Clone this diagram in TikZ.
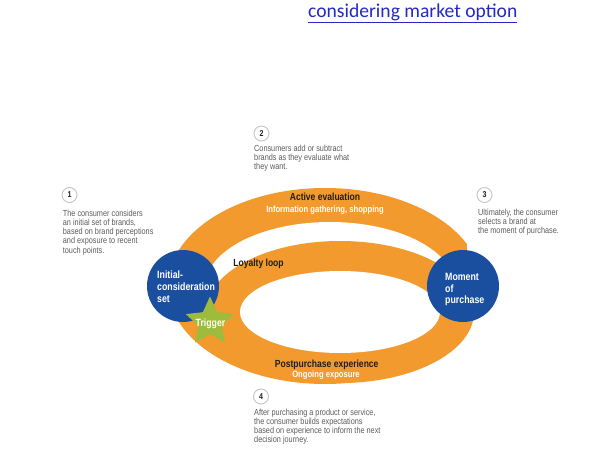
\documentclass[tikz,border=0pt]{standalone}
\usepackage{fontspec}
\usetikzlibrary{shapes.geometric}
\newfontfamily\diagfont[FakeStretch=0.83]{Liberation Sans}
\newfontfamily\linkfont{Carlito}
\definecolor{band}{HTML}{F39A2E}
\definecolor{setblue}{HTML}{1A4E9E}
\definecolor{triggergreen}{HTML}{9DBB3D}
\definecolor{notegray}{HTML}{5C5C5C}
\definecolor{ringgray}{HTML}{C4C4C4}
\definecolor{labelink}{HTML}{221D18}
\definecolor{linkblue}{HTML}{2727C4}

\tikzset{
  stagenum/.style={circle, draw=ringgray, line width=0.9pt, minimum size=15pt,
    inner sep=0pt, text=labelink, font=\diagfont\bfseries\fontsize{8.5}{9}\selectfont},
  notetext/.style={anchor=north west, inner sep=0pt, align=left, text=notegray,
    font=\diagfont\fontsize{8.8}{9.2}\selectfont},
  bandtitle/.style={anchor=base, inner sep=0pt, text=labelink,
    font=\diagfont\bfseries\fontsize{10.3}{11}\selectfont},
  bandsub/.style={anchor=base, inner sep=0pt, text=white,
    font=\diagfont\bfseries\fontsize{9.2}{10}\selectfont},
  setdisc/.style={circle, fill=setblue, minimum size=72pt, inner sep=0pt},
  setname/.style={anchor=north west, inner sep=0pt, align=left, text=white,
    font=\diagfont\bfseries\fontsize{10.6}{11.6}\selectfont},
}

\begin{document}
\begin{tikzpicture}[x=1pt, y=-1pt]
  \useasboundingbox (0,0) rectangle (595,476);
  \fill[white] (0,0) rectangle (595,476);

  % Heading link, cut at the top edge
  \node[anchor=base west, inner sep=0pt, text=linkblue,
    font=\linkfont\fontsize{19.6}{22}\selectfont] (heading) at (308,17.5)
    {\underline{considering market option}};

  % Orange journey: outer band, gap, loyalty loop and its hole
  \fill[band] (325,286) ellipse [x radius=157, y radius=98];
  \fill[white] (467,180) rectangle (500,258);
  \fill[white] (330,287) ellipse [x radius=125, y radius=65];
  \fill[band] (340,312) ellipse [x radius=134, y radius=71];
  \fill[white] (340,312) ellipse [x radius=100, y radius=41];

  % The two sets and the trigger
  \node[setdisc] (initial) at (183,286) {};
  \node[setdisc] (moment) at (463,286) {};
  \node[setname] (initiallbl) at (157,271.1) {Initial-\\consideration\\set};
  \node[setname] (momentlbl) at (445,273.2) {Moment\\of\\purchase};
  \node[star, star points=5, star point ratio=2.1, minimum size=51pt,
    inner sep=0pt, fill=triggergreen] (trigger) at (210,322) {};
  \node[anchor=base, inner sep=0pt, text=white,
    font=\diagfont\bfseries\fontsize{10.5}{11}\selectfont] (triggerlbl) at (210.5,326.5) {Trigger};

  % Band labels
  \node[bandtitle] (evaltitle) at (325,200.5) {Active evaluation};
  \node[bandsub] (evalsub) at (325,212.5) {Information gathering, shopping};
  \node[bandtitle] (loyaltylbl) at (258.5,266.4) {Loyalty loop};
  \node[bandtitle] (posttitle) at (326.7,367) {Postpurchase experience};
  \node[bandsub] (postsub) at (326,377.5) {Ongoing exposure};

  % Numbered notes
  \node[stagenum] (num1) at (69.5,195) {1};
  \node[notetext] (note1) at (62.7,209.8)
    {The consumer considers\\an initial set of brands,\\based on brand perceptions\\and exposure to recent\\touch points.};
  \node[stagenum] (num2) at (261.5,133.5) {2};
  \node[notetext] (note2) at (254,144.8)
    {Consumers add or subtract\\brands as they evaluate what\\they want.};
  \node[stagenum] (num3) at (484.5,195) {3};
  \node[notetext] (note3) at (478,208.8)
    {Ultimately, the consumer\\selects a brand at\\the moment of purchase.};
  \node[stagenum] (num4) at (261,396.5) {4};
  \node[notetext] (note4) at (254,408.5)
    {After purchasing a product or service,\\the consumer builds expectations\\based on experience to inform the next\\decision journey.};
\end{tikzpicture}
\end{document}
